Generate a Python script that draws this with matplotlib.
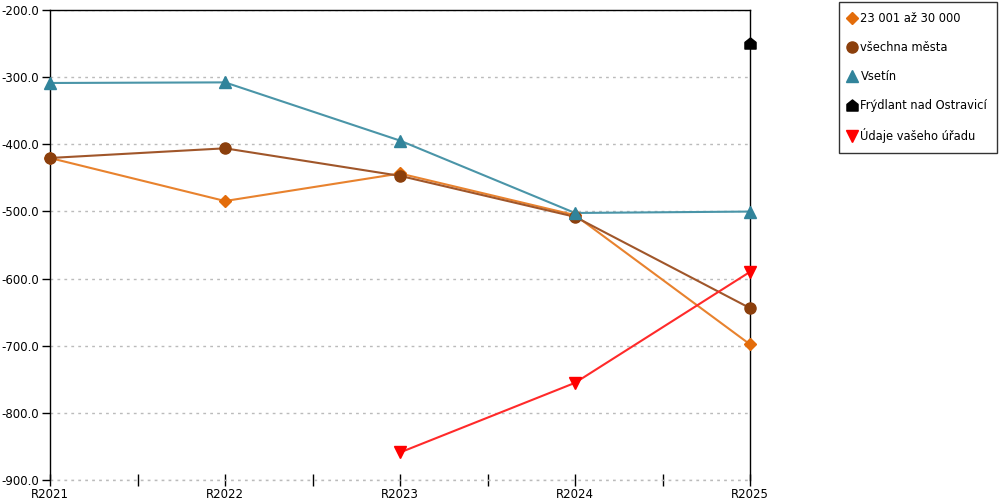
import matplotlib.pyplot as plt
from matplotlib.path import Path
from matplotlib.ticker import FixedLocator, FormatStrFormatter
import numpy as np

plt.rcParams["font.family"] = ["DejaVu Sans"]

years = ["R2021", "R2022", "R2023", "R2024", "R2025"]
skupina = [-420.4, -484.5, -443.5, -505.5, -698.0]
vsechna = [-420.4, -406.0, -447.0, -508.0, -644.0]
vsetin = [-308.7, -307.8, -394.5, -502.3, -500.2]
frydlant = [None, None, None, None, -249.0]
urad = [None, None, -859.0, -755.3, -590.0]

house = Path([(-1, -1), (1, -1), (1, 0.2), (0, 1), (-1, 0.2), (-1, -1)],
             [Path.MOVETO, Path.LINETO, Path.LINETO, Path.LINETO, Path.LINETO, Path.CLOSEPOLY])


def to_arr(vals):
    return np.array([np.nan if v is None else v for v in vals], dtype=float)


x = np.arange(len(years))

fig = plt.figure(figsize=(10, 5), dpi=100)
ax = fig.add_axes([0.05, 0.04, 0.70, 0.94])

series = [
    ("23 001 až 30 000", skupina, "#E8822E", "#E36C0A", "D", 6),
    ("všechna města", vsechna, "#A0562A", "#8B3F0C", "o", 8),
    ("Vsetín", vsetin, "#4A95A8", "#31849B", "^", 8.5),
    ("Frýdlant nad Ostravicí", frydlant, "#000000", "#000000", house, 8),
    ("Údaje vašeho úřadu", urad, "#FF2A2A", "#FF0000", "v", 8.5),
]

for name, vals, lc, mc, mk, ms in series:
    y = to_arr(vals)
    ax.plot(x, y, color=lc, linewidth=1.5, zorder=3, clip_on=False)
    ax.plot(x, y, linestyle="none", marker=mk, markersize=ms,
            markerfacecolor=mc, markeredgecolor=mc, label=name, zorder=4, clip_on=False)

ax.set_xlim(0, 4)
ax.set_ylim(-900, -200)
ax.set_xticks(x)
ax.set_xticklabels(years)
ax.xaxis.set_minor_locator(FixedLocator([0.5, 1.5, 2.5, 3.5]))
ax.set_yticks(np.arange(-900, -199, 100))
ax.yaxis.set_major_formatter(FormatStrFormatter("%.1f"))

ax.grid(axis="y", color="#BBBBBB", linestyle=(0, (2, 3)), linewidth=1)
ax.axhline(-900, color="#BBBBBB", linestyle=(0, (2, 3)), linewidth=1, clip_on=False, zorder=1)
ax.set_axisbelow(True)

ax.spines["bottom"].set_visible(False)
for s in ["left", "right", "top"]:
    ax.spines[s].set_color("black")
    ax.spines[s].set_linewidth(1)

ax.tick_params(axis="x", which="both", direction="inout", length=9, width=1,
               labelsize=8.5, pad=1)
ax.tick_params(axis="y", direction="out", length=6, width=1, labelsize=8.5, pad=2)

leg = fig.legend(loc="upper right", bbox_to_anchor=(0.997, 0.996), frameon=True,
                 fancybox=False, edgecolor="black", fontsize=8.3, labelspacing=1.4,
                 handlelength=0.6, handletextpad=0.4, borderpad=0.85, borderaxespad=0)
leg.get_frame().set_linewidth(1)

fig.savefig("out.png", dpi=100)
